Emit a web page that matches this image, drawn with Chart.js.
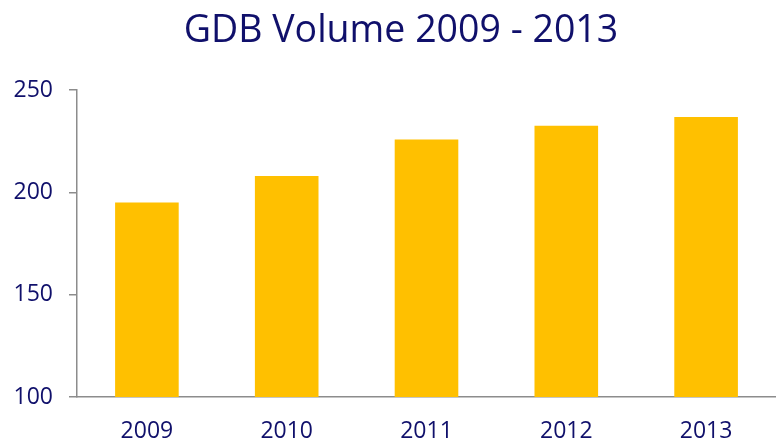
<!DOCTYPE html>
<html>
<head>
<meta charset="utf-8">
<script src="https://cdn.jsdelivr.net/npm/chart.js@4.4.1/dist/chart.umd.min.js"></script>
<style>
html,body{margin:0;padding:0;background:#fff;}
#wrap{width:776px;height:441px;}
</style>
</head>
<body>
<div id="wrap"><canvas id="c" width="776" height="441"></canvas></div>
<script>
const categories = ["2009", "2010", "2011", "2012", "2013"];
const gdpVolume = [195, 208, 225.8, 232.5, 236.8];
const yTicks = [100, 150, 200, 250];

const navy = "#10106B";
const axisGray = "#8C8C8C";

const titleShift = {
  id: "titleShift",
  afterLayout(chart) {
    if (chart.titleBlock) { chart.titleBlock.left += 13; chart.titleBlock.right += 13; }
  }
};

new Chart(document.getElementById("c"), {
  type: "bar",
  data: {
    labels: categories,
    datasets: [{
      label: "GDB Volume",
      data: gdpVolume,
      backgroundColor: "#FFC000",
      borderWidth: 0,
      barPercentage: 0.455,
      categoryPercentage: 1.0
    }]
  },
  plugins: [titleShift],
  options: {
    responsive: false,
    animation: false,
    devicePixelRatio: 1,
    layout: { padding: { left: 0, right: 0, top: 9, bottom: 0 } },
    plugins: {
      legend: { display: false },
      tooltip: { enabled: false },
      title: {
        display: true,
        text: "GDB Volume 2009 - 2013",
        color: navy,
        font: { family: "'Open Sans', sans-serif", size: 37.5, weight: "normal" },
        padding: { top: 0, bottom: 36 }
      }
    },
    scales: {
      x: {
        grid: { display: false, drawTicks: false },
        border: { display: true, color: axisGray, width: 1.5 },
        ticks: { color: navy, font: { family: "'Open Sans', sans-serif", size: 23 }, padding: 21 },
        afterFit: (axis) => { axis.height = 44; }
      },
      y: {
        min: 100,
        max: 250,
        afterBuildTicks: (axis) => { axis.ticks = yTicks.map(v => ({ value: v })); },
        afterFit: (axis) => { axis.width = 77; },
        grid: { drawOnChartArea: false, drawTicks: true, tickLength: 8, color: axisGray, lineWidth: 1.5 },
        border: { display: true, color: axisGray, width: 1.5 },
        ticks: { color: navy, font: { family: "'Open Sans', sans-serif", size: 23 }, padding: 16 }
      }
    }
  }
});
</script>
</body>
</html>
